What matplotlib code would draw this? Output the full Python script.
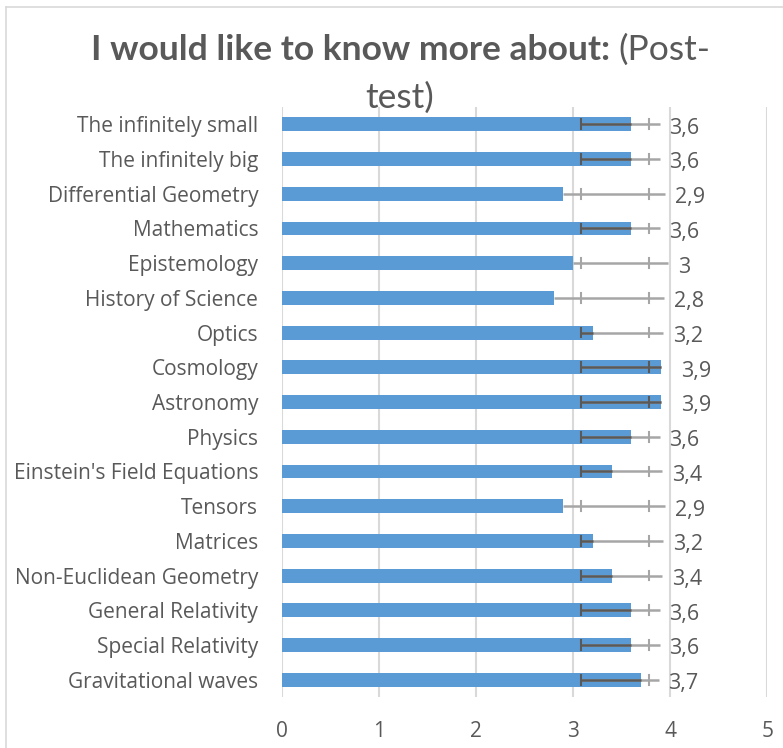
import matplotlib
matplotlib.use("Agg")
import matplotlib.pyplot as plt
from matplotlib.lines import Line2D

plt.rcParams["font.family"] = ["Open Sans", "DejaVu Sans"]

# data (top to bottom as shown)
categories = [
    "The infinitely small", "The infinitely big", "Differential Geometry",
    "Mathematics", "Epistemology", "History of Science", "Optics",
    "Cosmology", "Astronomy", "Physics", "Einstein's Field Equations",
    "Tensors", "Matrices", "Non-Euclidean Geometry", "General Relativity",
    "Special Relativity", "Gravitational waves",
]
values = [3.6, 3.6, 2.9, 3.6, 3.0, 2.8, 3.2, 3.9, 3.9, 3.6, 3.4, 2.9, 3.2, 3.4, 3.6, 3.6, 3.7]
labels = ["3,6", "3,6", "2,9", "3,6", "3", "2,8", "3,2", "3,9", "3,9", "3,6",
          "3,4", "2,9", "3,2", "3,4", "3,6", "3,6", "3,7"]
# error bar as drawn in the original (caps + whisker end)
err_low = [3.08] * 17
err_high = [3.78] * 17
whisker_end = [3.89, 3.89, 3.95, 3.89, 3.98, 3.94, 3.93, 3.9, 3.9, 3.89,
               3.92, 3.95, 3.93, 3.92, 3.89, 3.89, 3.88]

BLUE = "#5B9BD5"
TEXT = "#595959"
GRID = "#D9D9D9"
LIGHT = "#A6A6A6"
DARK = "#595959"

fig = plt.figure(figsize=(7.83, 7.48), dpi=100)
ax = fig.add_axes([0.360, 0.068, 0.620, 0.789])

n = len(categories)
ypos = list(range(n - 1, -1, -1))

ax.barh(ypos, values, height=0.4, color=BLUE, zorder=2)

for y, v, lo, hi, end, lab in zip(ypos, values, err_low, err_high, whisker_end, labels):
    start = min(v, lo)
    ax.plot([start, end], [y, y], color=LIGHT, lw=1.8, zorder=3, solid_capstyle="butt")
    if v > lo:
        ax.plot([lo, v], [y, y], color=DARK, lw=1.8, zorder=4, solid_capstyle="butt")
    for c in (lo, hi):
        col = DARK if c < v else LIGHT
        ax.plot([c, c], [y - 0.14, y + 0.14], color=col, lw=1.5, zorder=4)
    off = 15 if v >= end else 7
    ax.annotate(lab, (max(end, v), y), xytext=(off, -1), textcoords="offset points",
                ha="left", va="center_baseline", fontsize=15.5, color=TEXT)

ax.set_xlim(0, 5)
ax.set_ylim(-0.5, n - 0.5)
ax.set_xticks(range(6))
ax.set_yticks(ypos)
ax.set_yticklabels(categories)
ax.tick_params(axis="both", length=0, labelsize=15, labelcolor=TEXT)
ax.tick_params(axis="y", pad=17)
ax.tick_params(axis="x", pad=17)
ax.grid(axis="x", color=GRID, lw=1.5, zorder=0)
ax.set_axisbelow(True)
for s in ax.spines.values():
    s.set_visible(False)

fig.text(610 / 783, 1 - 50 / 748, "I would like to know more about:", ha="right", va="center",
         fontsize=25.5, fontweight="bold", color=TEXT, family=["Lato", "DejaVu Sans"])
fig.text(618 / 783, 1 - 50 / 748, "(Post-", ha="left", va="center", fontsize=25.5, color=TEXT,
         family=["Lato", "DejaVu Sans"])
fig.text(400 / 783, 1 - 98 / 748, "test)", ha="center", va="center", fontsize=25.5, color=TEXT,
         family=["Lato", "DejaVu Sans"])

# chart border
fig.add_artist(Line2D([6 / 783, 1], [1 - 7 / 748, 1 - 7 / 748], color=GRID, lw=1.2))
fig.add_artist(Line2D([6 / 783, 6 / 783], [0, 1 - 7 / 748], color=GRID, lw=1.2))

fig.savefig("out.png", dpi=100)
